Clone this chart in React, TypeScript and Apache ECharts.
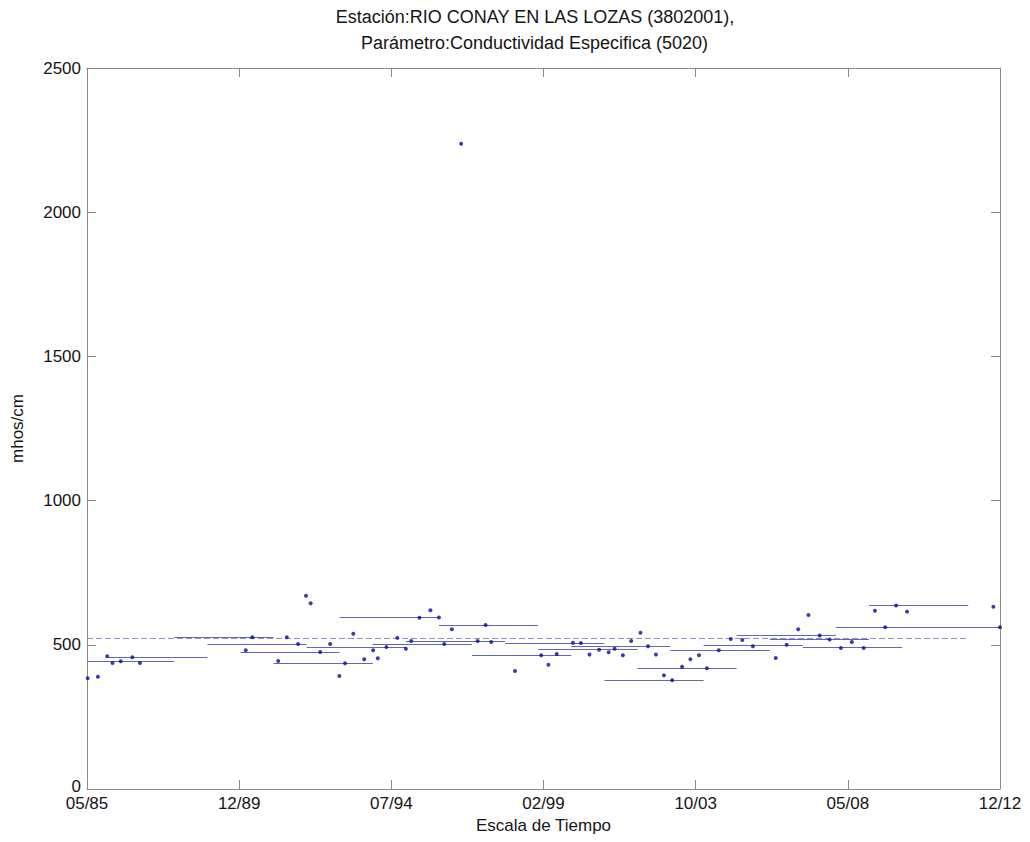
import React, { useEffect, useRef } from "react";
import * as echarts from "echarts";

// Axis time range (decimal years): first and last sample
const T0 = 1985.36;
const SPAN = 27.6;
const T1 = T0 + SPAN;
const TICK_STEP = 4.6;
const tickLabels = ["05/85", "12/89", "07/94", "02/99", "10/03", "05/08", "12/12"];

// Samples: decimal year and specific conductivity
const sampleYears = [
  1985.38, 1985.69, 1985.97, 1986.13, 1986.38, 1986.73, 1986.96,
  1990.16, 1990.36, 1991.14, 1991.40, 1991.74, 1991.98, 1992.12,
  1992.41, 1992.71, 1992.99, 1993.16, 1993.41, 1993.74, 1994.01,
  1994.15, 1994.41, 1994.74, 1995.00, 1995.16, 1995.41, 1995.74,
  1996.00, 1996.16, 1996.39, 1996.67, 1997.17, 1997.41, 1997.58,
  1998.30, 1999.09, 1999.31, 1999.56, 2000.05, 2000.29, 2000.55,
  2000.84, 2001.13, 2001.31, 2001.56, 2001.81, 2002.09, 2002.32,
  2002.56, 2002.80, 2003.05, 2003.35, 2003.60, 2003.86, 2004.10,
  2004.46, 2004.82, 2005.17, 2005.49, 2006.18, 2006.51, 2006.86,
  2007.17, 2007.51, 2007.81, 2008.15, 2008.48, 2008.84, 2009.18,
  2009.49, 2009.82, 2010.15, 2012.76, 2012.96,
];
const conductivity = [
  384, 389, 460, 437, 443, 457, 437,
  481, 526, 444, 526, 503, 670, 644,
  475, 503, 392, 436, 538, 450, 481,
  453, 492, 524, 486, 513, 594, 620,
  595, 503, 554, 2237, 513, 569, 510,
  409, 464, 431, 468, 507, 506, 466,
  483, 474, 486, 464, 513, 542, 495,
  466, 394, 377, 424, 450, 464, 419,
  481, 520, 517, 495, 454, 500, 554,
  603, 532, 518, 489, 510, 489, 618,
  561, 636, 615, 632, 561,
];

// Three-year window means
const windowStart = [
  1985, 1986, 1988, 1989, 1990, 1991, 1992, 1993, 1994, 1995, 1996, 1997,
  1998, 1999, 2000, 2001, 2002, 2003, 2004, 2005, 2006, 2007, 2008, 2009,
];
const windowEnd = [
  1988, 1989, 1991, 1992, 1993, 1994, 1995, 1996, 1997, 1998, 1999, 2000,
  2001, 2002, 2003, 2004, 2005, 2006, 2007, 2008, 2009, 2010, 2012.96, 2012,
];
const windowMean = [
  443, 457, 526, 503, 475, 437, 493, 594, 503, 513, 569, 464,
  506, 486, 495, 377, 417, 481, 500, 532, 519, 490, 561, 636,
];

// Overall mean
const overallMean = 522;
const overallMeanEnd = 2012.0;

const FONT = "'Liberation Sans', Arial, Helvetica, sans-serif";
const AXIS_COLOR = "#8a8a8a";
const TEXT_COLOR = "#151515";

export default function App() {
  const ref = useRef<HTMLDivElement>(null);

  useEffect(() => {
    if (!ref.current) return;
    const chart = echarts.init(ref.current, undefined, { renderer: "svg" });

    const points = sampleYears.map((y, i) => [y - T0, conductivity[i]]);
    const segs = windowStart.map((s, i) => ({
      coords: [
        [Math.max(s, T0) - T0, windowMean[i]],
        [Math.min(windowEnd[i], T1) - T0, windowMean[i]],
      ],
    }));

    const xBase = {
      type: "value" as const,
      min: 0,
      max: SPAN,
      interval: TICK_STEP,
      axisLine: { show: true, onZero: false, lineStyle: { color: AXIS_COLOR, width: 1 } },
      axisTick: { show: true, inside: true, length: 9, lineStyle: { color: AXIS_COLOR } },
      splitLine: { show: false },
    };
    const yBase = {
      type: "value" as const,
      min: 0,
      max: 2500,
      interval: 500,
      axisLine: { show: true, onZero: false, lineStyle: { color: AXIS_COLOR, width: 1 } },
      axisTick: { show: true, inside: true, length: 9, lineStyle: { color: AXIS_COLOR } },
      splitLine: { show: false },
    };

    chart.setOption({
      animation: false,
      backgroundColor: "#ffffff",
      grid: { left: 87, right: 30, top: 68, bottom: 53, containLabel: false },
      graphic: [
        {
          type: "text",
          x: 535,
          y: 17,
          style: {
            text: "Estación:RIO CONAY EN LAS LOZAS (3802001),",
            fontSize: 18,
            fontFamily: FONT,
            fill: TEXT_COLOR,
            align: "center",
            verticalAlign: "middle",
          },
        },
        {
          type: "text",
          x: 532,
          y: 43,
          style: {
            text: " Parámetro:Conductividad Especifica (5020)",
            fontSize: 18,
            fontFamily: FONT,
            fill: TEXT_COLOR,
            align: "center",
            verticalAlign: "middle",
          },
        },
      ],
      xAxis: [
        {
          ...xBase,
          position: "bottom",
          axisLabel: {
            show: true,
            fontSize: 17,
            fontFamily: FONT,
            color: TEXT_COLOR,
            margin: 6,
            formatter: (v: number) => tickLabels[Math.round(v / TICK_STEP)] ?? "",
          },
          name: "Escala de Tiempo",
          nameLocation: "middle",
          nameGap: 25,
          nameTextStyle: { fontSize: 17, fontFamily: FONT, color: TEXT_COLOR },
        },
        {
          ...xBase,
          position: "top",
          axisLabel: { show: false },
        },
      ],
      yAxis: [
        {
          ...yBase,
          position: "left",
          axisLabel: {
            show: true,
            fontSize: 17,
            fontFamily: FONT,
            color: TEXT_COLOR,
            margin: 6,
            formatter: (v: number) => (v === 0 ? "{zero|0}" : String(v)),
            rich: {
              zero: {
                fontSize: 17,
                fontFamily: FONT,
                color: TEXT_COLOR,
                padding: [0, 0, 6, 0],
              },
            },
          },
          name: "mhos/cm",
          nameLocation: "middle",
          nameGap: 61,
          nameTextStyle: { fontSize: 17, fontFamily: FONT, color: TEXT_COLOR },
        },
        {
          ...yBase,
          position: "right",
          axisLabel: { show: false },
        },
      ],
      series: [
        {
          type: "line",
          xAxisIndex: 0,
          yAxisIndex: 0,
          data: [
            [0, overallMean],
            [overallMeanEnd - T0, overallMean],
          ],
          symbol: "none",
          silent: true,
          lineStyle: { color: "#8c8cbc", width: 1, type: [6, 3] },
          z: 2,
        },
        {
          type: "lines",
          coordinateSystem: "cartesian2d",
          xAxisIndex: 0,
          yAxisIndex: 0,
          polyline: false,
          silent: true,
          data: segs,
          lineStyle: { color: "#6464bc", width: 1, opacity: 1, curveness: 0 },
          z: 3,
        },
        {
          type: "scatter",
          xAxisIndex: 0,
          yAxisIndex: 0,
          data: points,
          symbol: "circle",
          symbolSize: 4,
          itemStyle: { color: "#0b0b9c" },
          silent: true,
          z: 4,
        },
      ],
    });

    return () => chart.dispose();
  }, []);

  return (
    <div
      ref={ref}
      style={{ position: "absolute", left: 0, top: 0, width: 1030, height: 842 }}
    />
  );
}
